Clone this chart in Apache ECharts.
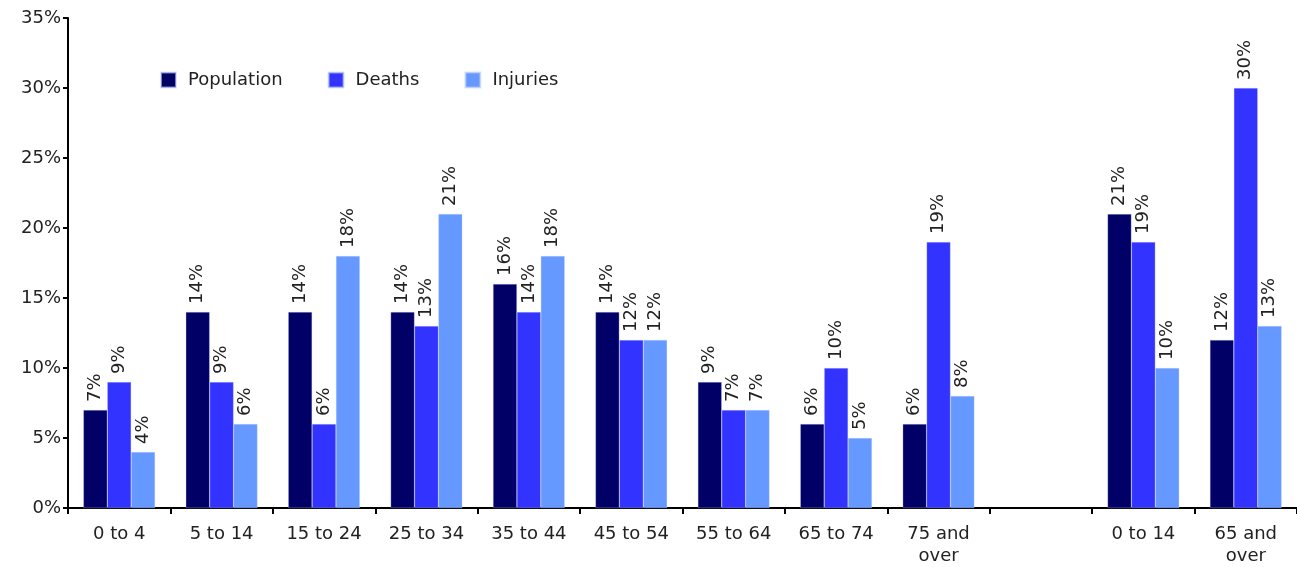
<!DOCTYPE html>
<html>
<head>
<meta charset="utf-8">
<script src="https://cdn.jsdelivr.net/npm/echarts@6/dist/echarts.min.js"></script>
<style>
  html, body { margin: 0; padding: 0; background: #fff; }
  #chart { width: 1297px; height: 567px; }
</style>
</head>
<body>
<div id="chart"></div>
<script>
// age groups, with one blank slot between the two blocks
var categories = ['0 to 4', '5 to 14', '15 to 24', '25 to 34', '35 to 44', '45 to 54',
                  '55 to 64', '65 to 74', '75 and\nover', '', '0 to 14', '65 and\nover'];
var population = [7, 14, 14, 14, 16, 14, 9, 6, 6, '-', 21, 12];
var deaths     = [9, 9, 6, 13, 14, 12, 7, 10, 19, '-', 19, 30];
var injuries   = [4, 6, 18, 21, 18, 12, 7, 5, 8, '-', 10, 13];
var yTicks = [0, 5, 10, 15, 20, 25, 30, 35];

var font = 'DejaVu Sans, Verdana, sans-serif';
var chart = echarts.init(document.getElementById('chart'));

function barSeries(name, data, color) {
    return {
        name: name,
        type: 'bar',
        data: data,
        barGap: '0%',
        barCategoryGap: '30%',
        itemStyle: { color: color, borderColor: 'rgba(200,210,255,0.6)', borderWidth: 0.5 },
        label: {
            show: true,
            position: 'top',
            rotate: 90,
            align: 'left',
            verticalAlign: 'middle',
            distance: 8,
            formatter: '{c}%',
            fontFamily: font,
            fontSize: 18,
            color: '#222'
        }
    };
}

chart.setOption({
    animation: false,
    textStyle: { fontFamily: font },
    legend: {
        left: 155,
        top: 66,
        itemWidth: 15,
        itemHeight: 15,
        itemGap: 45,
        icon: 'rect',
        textStyle: { fontSize: 18, color: '#222', fontFamily: font, padding: [0, 0, 0, 7] },
        data: ['Population', 'Deaths', 'Injuries']
    },
    grid: { left: 68, right: 0, top: 18, bottom: 59, containLabel: false, outerBoundsMode: 'none' },
    xAxis: {
        type: 'category',
        data: categories,
        axisLine: { lineStyle: { color: '#000', width: 2 } },
        axisTick: { show: true, length: 6, lineStyle: { color: '#000', width: 2 } },
        axisLabel: { fontSize: 18, color: '#222', margin: 15, lineHeight: 22, fontFamily: font, interval: 0 }
    },
    yAxis: {
        type: 'value',
        min: yTicks[0],
        max: yTicks[yTicks.length - 1],
        interval: 5,
        axisLine: { show: true, lineStyle: { color: '#000', width: 2 } },
        axisTick: { show: true, length: 5, lineStyle: { color: '#000', width: 2 } },
        splitLine: { show: false },
        axisLabel: { fontSize: 18, color: '#222', margin: 7, formatter: '{value}%', fontFamily: font }
    },
    series: [
        barSeries('Population', population, '#000066'),
        barSeries('Deaths', deaths, '#3333ff'),
        barSeries('Injuries', injuries, '#6699ff')
    ]
});
</script>
</body>
</html>
